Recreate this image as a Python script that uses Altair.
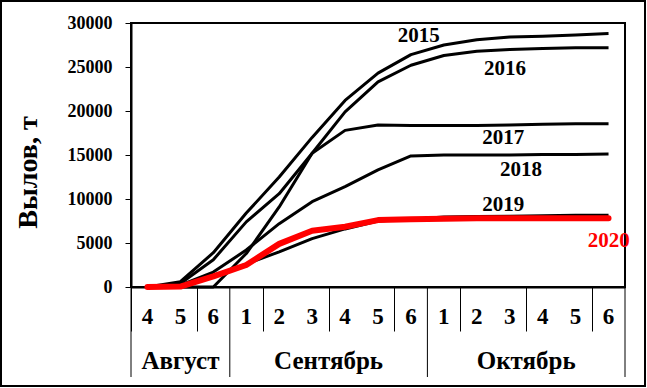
import altair as alt
import pandas as pd

# ---- data ----
days = ["4", "5", "6", "1", "2", "3", "4", "5", "6", "1", "2", "3", "4", "5", "6"]
months = ["Август", "Сентябрь", "Октябрь"]
month_spans = [3, 6, 6]

years = ["2015", "2016", "2017", "2018", "2019", "2020"]
y2015 = [0, 600, 3900, 8400, 12500, 17000, 21200, 24300, 26400, 27500, 28100, 28400, 28500, 28650, 28800]
y2016 = [0, 0, 0, 3800, 9100, 15200, 19900, 23300, 25200, 26300, 26800, 27000, 27100, 27200, 27200]
y2017 = [0, 400, 3100, 7400, 10600, 15200, 17800, 18400, 18350, 18350, 18350, 18400, 18500, 18550, 18550]
y2018 = [0, 200, 1700, 4200, 7200, 9700, 11400, 13300, 14900, 15000, 15000, 15000, 15050, 15050, 15100]
y2019 = [0, 100, 1300, 2600, 4000, 5500, 6600, 7500, 7700, 7950, 8000, 8050, 8100, 8150, 8150]
y2020 = [0, 50, 1200, 2500, 4900, 6400, 6850, 7600, 7700, 7750, 7800, 7800, 7800, 7800, 7800]
series = [y2015, y2016, y2017, y2018, y2019, y2020]

label_text = ["2015", "2016", "2017", "2018", "2019", "2020"]
label_x = [8.74, 11.36, 11.3, 11.84, 11.3, 14.51]
label_y = [28570, 24820, 16900, 13350, 9370, 5280]
label_color = ["black", "black", "black", "black", "black", "#ff0000"]

W, H = 494, 264
FONT = "Liberation Serif"

rows = []
for yr, vals in zip(years, series):
    for i, v in enumerate(vals):
        rows.append({"year": yr, "x": i + 0.5, "v": v})
df = pd.DataFrame(rows)

day_df = pd.DataFrame({"x": [i + 0.5 for i in range(len(days))], "t": days})
starts = [sum(month_spans[:k]) for k in range(len(month_spans))]
month_df = pd.DataFrame({"x": [s + n / 2 for s, n in zip(starts, month_spans)], "t": months})
bounds_df = pd.DataFrame({"x": starts + [sum(month_spans)]})
lab_df = pd.DataFrame({"t": label_text, "x": label_x, "v": label_y, "c": label_color})

xscale = alt.Scale(domain=[0, 15], nice=False, zero=False)
yscale = alt.Scale(domain=[0, 30000], nice=False)

xaxis = alt.Axis(values=list(range(16)), labels=False, tickSize=44, tickColor="black",
                 tickWidth=1, domainColor="black", domainWidth=2, grid=False, title=None)
yaxis = alt.Axis(values=list(range(0, 30001, 5000)), format="d", labelFont=FONT,
                 labelFontWeight="bold", labelFontSize=18, labelColor="black",
                 labelPadding=13, tickSize=6, tickColor="black", tickWidth=1,
                 domainColor="black", domainWidth=2, grid=False,
                 title="Вылов, т", titleFont=FONT, titleFontSize=28, titleFontWeight="bold",
                 titleColor="black", titleX=-103, titleY=149, titleAlign="center",
                 titleBaseline="middle", titleAngle=270)

base = alt.Chart(df)

black_lines = base.transform_filter(alt.datum.year != "2020").mark_line(
    color="black", strokeWidth=3, strokeJoin="round"
).encode(
    x=alt.X("x:Q", scale=xscale, axis=xaxis),
    y=alt.Y("v:Q", scale=yscale, axis=yaxis),
    detail="year:N",
)
red_line = base.transform_filter(alt.datum.year == "2020").mark_line(
    color="#ff0000", strokeWidth=6, strokeJoin="round", strokeCap="round"
).encode(x=alt.X("x:Q", scale=xscale), y=alt.Y("v:Q", scale=yscale))

labels = alt.Chart(lab_df).mark_text(font=FONT, fontWeight="bold", fontSize=21,
                                     baseline="middle", align="center").encode(
    x=alt.X("x:Q", scale=xscale), y=alt.Y("v:Q", scale=yscale),
    text="t:N", color=alt.Color("c:N", scale=None))

day_text = alt.Chart(day_df).mark_text(font=FONT, fontWeight="bold", fontSize=23,
                                       baseline="middle", color="black").encode(
    x=alt.X("x:Q", scale=xscale), y=alt.value(H + 30), text="t:N")
month_text = alt.Chart(month_df).mark_text(font=FONT, fontWeight="bold", fontSize=25,
                                           baseline="middle", color="black").encode(
    x=alt.X("x:Q", scale=xscale), y=alt.value(H + 74), text="t:N")
seps = alt.Chart(bounds_df).mark_rule(color="black", strokeWidth=1).encode(
    x=alt.X("x:Q", scale=xscale), y=alt.value(H), y2=alt.value(H + 90))

frame = alt.Chart(pd.DataFrame({"a": [0]})).mark_rect(
    fillOpacity=0, stroke="black", strokeWidth=2).encode(
    x=alt.value(-130), x2=alt.value(W + 20), y=alt.value(-22), y2=alt.value(H + 99))

chart = alt.layer(black_lines, red_line, labels, day_text, month_text, seps, frame).properties(
    width=W, height=H,
    autosize=alt.AutoSizeParams(type="none"),
    padding={"left": 131, "top": 23, "right": 22, "bottom": 101},
    background="white",
).configure_view(stroke="black", strokeWidth=2)

chart.save("out.html", embed_options={"renderer": "svg", "actions": False})
